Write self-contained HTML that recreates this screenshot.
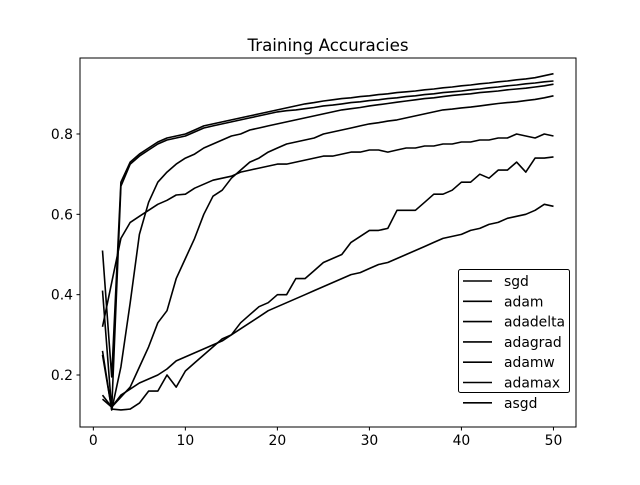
<!DOCTYPE html>
<html><head><meta charset="utf-8"><style>
body{margin:0;background:#fff}
svg text{font-family:"DejaVu Sans","Liberation Sans",sans-serif;fill:#000}
</style></head><body>
<svg id="chart" width="640" height="480">
<rect width="640" height="480" fill="#fff"/>
<text x="328" y="51" font-size="16.7" text-anchor="middle">Training Accuracies</text>
<g id="plot"></g>
<rect x="80" y="58" width="496" height="369" fill="none" stroke="#000" stroke-width="1"/>
<g id="axes"></g>
<g id="legend"></g>
</svg>
<script>
const epochs = Array.from({length:50},(_, i)=>i+1);
const seriesNames = ["sgd","adam","adadelta","adagrad","adamw","adamax","asgd"];
const sgd = [0.25,0.115,0.113,0.115,0.13,0.16,0.16,0.20,0.17,0.21,0.23,0.25,0.27,0.29,0.30,0.33,0.35,0.37,0.38,0.40,0.40,0.44,0.44,0.46,0.48,0.49,0.50,0.53,0.545,0.56,0.56,0.565,0.61,0.61,0.61,0.63,0.65,0.65,0.66,0.68,0.68,0.70,0.69,0.71,0.71,0.73,0.705,0.74,0.74,0.743];
const adam = [0.51,0.195,0.68,0.73,0.75,0.765,0.78,0.79,0.795,0.80,0.81,0.82,0.825,0.83,0.835,0.84,0.845,0.85,0.855,0.86,0.865,0.87,0.875,0.878,0.882,0.885,0.888,0.89,0.893,0.895,0.898,0.90,0.903,0.905,0.907,0.91,0.912,0.915,0.917,0.92,0.922,0.925,0.927,0.93,0.932,0.935,0.937,0.94,0.945,0.95];
const adadelta = [0.15,0.12,0.15,0.165,0.18,0.19,0.20,0.215,0.235,0.245,0.255,0.265,0.275,0.285,0.30,0.315,0.33,0.345,0.36,0.37,0.38,0.39,0.40,0.41,0.42,0.43,0.44,0.45,0.455,0.465,0.475,0.48,0.49,0.50,0.51,0.52,0.53,0.54,0.545,0.55,0.56,0.565,0.575,0.58,0.59,0.595,0.60,0.61,0.625,0.62];
const adagrad = [0.14,0.12,0.145,0.17,0.22,0.27,0.33,0.36,0.44,0.49,0.54,0.60,0.645,0.66,0.69,0.71,0.73,0.74,0.755,0.765,0.775,0.78,0.785,0.79,0.80,0.805,0.81,0.815,0.82,0.825,0.828,0.832,0.835,0.84,0.845,0.85,0.855,0.86,0.862,0.865,0.867,0.87,0.873,0.876,0.878,0.88,0.883,0.886,0.89,0.895];
const adamw = [0.41,0.113,0.67,0.725,0.745,0.76,0.775,0.785,0.79,0.795,0.805,0.815,0.82,0.825,0.83,0.835,0.84,0.845,0.85,0.855,0.858,0.86,0.863,0.866,0.87,0.872,0.875,0.878,0.88,0.883,0.885,0.888,0.89,0.893,0.895,0.898,0.90,0.903,0.905,0.907,0.91,0.912,0.915,0.917,0.92,0.922,0.925,0.927,0.93,0.932];
const adamax = [0.26,0.113,0.22,0.38,0.55,0.63,0.68,0.705,0.725,0.74,0.75,0.765,0.775,0.785,0.795,0.80,0.81,0.815,0.82,0.825,0.83,0.835,0.84,0.845,0.85,0.855,0.86,0.863,0.866,0.87,0.873,0.876,0.879,0.882,0.885,0.888,0.89,0.893,0.896,0.898,0.90,0.903,0.905,0.907,0.91,0.912,0.914,0.917,0.92,0.924];
const asgd = [0.32,0.43,0.54,0.58,0.595,0.61,0.625,0.635,0.648,0.65,0.665,0.675,0.685,0.69,0.695,0.705,0.71,0.715,0.72,0.725,0.725,0.73,0.735,0.74,0.745,0.745,0.75,0.755,0.755,0.76,0.76,0.755,0.76,0.765,0.765,0.77,0.77,0.775,0.775,0.78,0.78,0.785,0.785,0.79,0.79,0.80,0.795,0.79,0.80,0.795];
const xTicks = [0,10,20,30,40,50];
const yTicks = [0.2,0.4,0.6,0.8];
const allSeries = [sgd,adam,adadelta,adagrad,adamw,adamax,asgd];

const NS="http://www.w3.org/2000/svg";
const xs = v => 80 + (v + 1.45) / 53.9 * 496;
const ys = v => 375 - (v - 0.2) * 401.7;
const plot=document.getElementById('plot'), axes=document.getElementById('axes'), legend=document.getElementById('legend');
function mk(tag, attrs, parent){const e=document.createElementNS(NS,tag);for(const k in attrs)e.setAttribute(k,attrs[k]);parent.appendChild(e);return e;}

allSeries.forEach((s,i)=>{
  const d = s.map((v,j)=>(j?'L':'M')+xs(epochs[j]).toFixed(1)+','+ys(v).toFixed(1)).join(' ');
  const p = mk('path',{d:d,fill:'none',stroke:'#000','stroke-width':1.6,'stroke-linejoin':'round'},plot);
  
  
});
xTicks.forEach(t=>{
  const x=xs(t);
  const l=mk('line',{x1:x,x2:x,y1:427,y2:430.5,stroke:'#000'},axes);
  
  
  const tx=mk('text',{x:x,y:445,'font-size':13.9,'text-anchor':'middle'},axes);
  tx.textContent=t;
  
  
});
yTicks.forEach(t=>{
  const y=ys(t);
  const l=mk('line',{x1:76.5,x2:80,y1:y,y2:y,stroke:'#000'},axes);
  
  
  const tx=mk('text',{x:73,y:y+5,'font-size':13.9,'text-anchor':'end'},axes);
  tx.textContent=t.toFixed(1);
  
  
});
const box=mk('rect',{x:458.5,y:269.5,width:111,height:123,rx:2,fill:'#fff',stroke:'#000','stroke-width':1},legend);


seriesNames.forEach((n,i)=>{
  const y=281+i*20.3;
  const l=mk('line',{x1:463,x2:492,y1:y,y2:y,stroke:'#000','stroke-width':1.6},legend);
  
  
  const t=mk('text',{x:504,y:y+5,'font-size':13.9},legend);
  t.textContent=n;
  
  
});
</script>
</body></html>
